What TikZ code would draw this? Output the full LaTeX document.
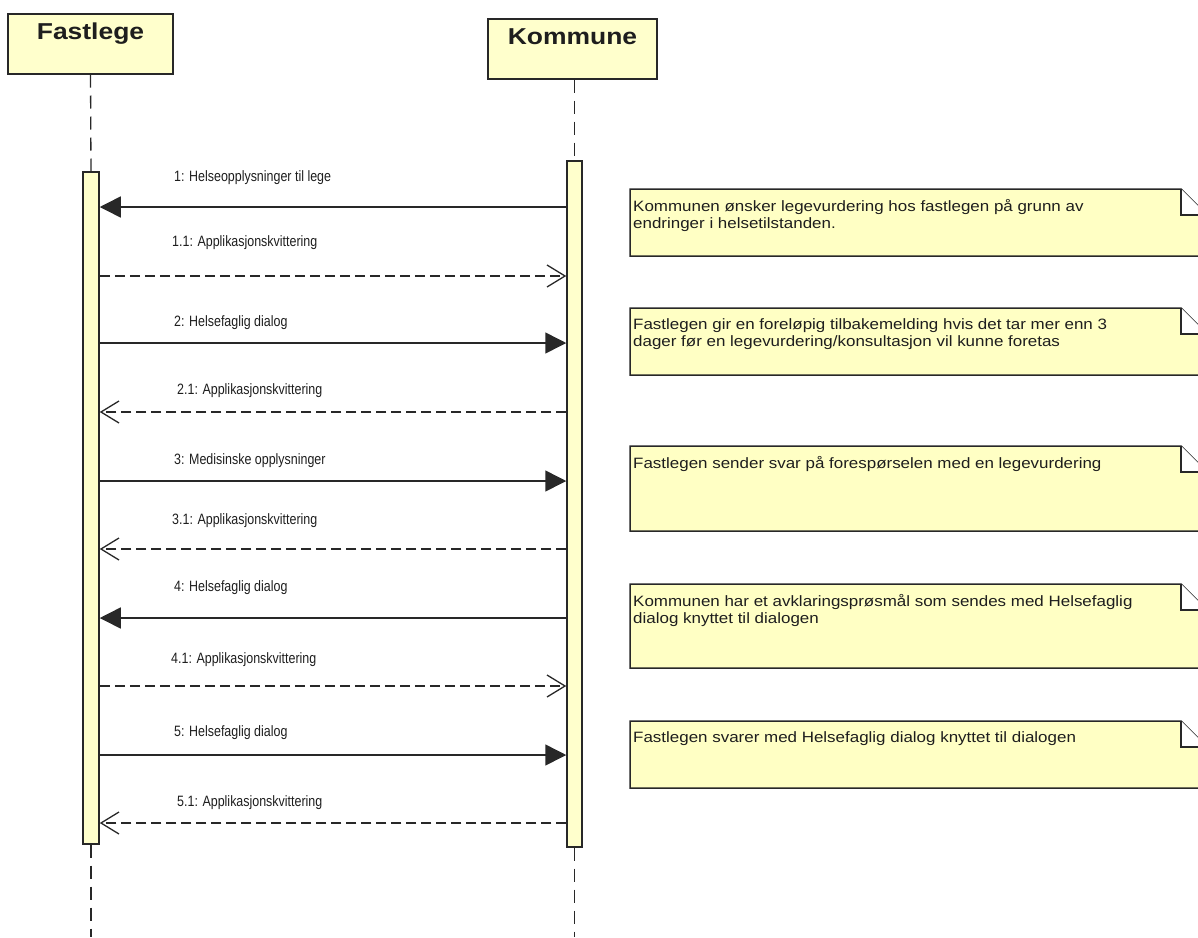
\documentclass[tikz,border=0pt]{standalone}
\usepackage{fontspec}
\setmainfont{Liberation Sans}
\newfontfamily\headfont{Liberation Sans}[FakeStretch=1.15]
\newfontfamily\labelfont{Liberation Sans}[FakeStretch=0.83]
\newfontfamily\notefont{Liberation Sans}[FakeStretch=1.13]
\usetikzlibrary{arrows.meta}
\definecolor{umlfill}{RGB}{255,255,204}
\definecolor{notefill}{RGB}{255,255,196}
\definecolor{umlline}{RGB}{40,40,40}
\definecolor{umltext}{RGB}{30,30,30}

\begin{document}
\begin{tikzpicture}[x=1pt, y=-1pt,
    header/.style={draw=umlline, fill=umlfill, line width=1.5pt, anchor=north,
        inner ysep=4pt, text height=22pt, text depth=30pt, text=umltext,
        font=\fontsize{23}{27}\headfont\bfseries},
    activation/.style={draw=umlline, fill=umlfill, line width=1.5pt, anchor=north, inner sep=0pt},
    lifeline/.style={umlline, line width=1.3pt, dash pattern=on 13pt off 8pt},
    call/.style={umlline, line width=1.5pt, -{Triangle[length=21pt,width=21pt]}},
    reply/.style={umlline, line width=1.3pt, dash pattern=on 10pt off 5pt,
        -{Straight Barb[length=18pt,width=22pt,line width=1.3pt]}},
    msglabel/.style={anchor=west, inner sep=0pt, text=umltext, font=\fontsize{15}{18}\labelfont},
    notebox/.style={draw=umlline, fill=notefill, line width=1.5pt},
    notetext/.style={anchor=north west, inner sep=0pt, align=left, text=umltext,
        font=\fontsize{15}{17.5}\notefont}]
    \useasboundingbox (0,0) rectangle (1198,937);
    \clip (0,0) rectangle (1198,937);

    % Lifelines
    \node[header, minimum width=165pt] (fastlege) at (90.5,13) {Fastlege};
    \node[header, minimum width=169pt] (kommune) at (572.5,18) {Kommune};
    \node[activation, minimum width=16pt, minimum height=672pt] (actF) at (91,171) {};
    \node[activation, minimum width=15pt, minimum height=686pt] (actK) at (574.5,160) {};
    \coordinate (endF) at (91,937);
    \coordinate (endK) at (574.5,937);
    \draw[lifeline] (fastlege.south) -- (actF.north);
    \draw[lifeline] (actK.north |- kommune.south) -- (actK.north);
    \draw[lifeline] (actF.south) -- (endF);
    \draw[lifeline] (actK.south) -- (endK);

    % Messages
    \coordinate (m1) at (0,207);
    \coordinate (m11) at (0,276);
    \coordinate (m2) at (0,343);
    \coordinate (m21) at (0,412);
    \coordinate (m3) at (0,481);
    \coordinate (m31) at (0,549);
    \coordinate (m4) at (0,618);
    \coordinate (m41) at (0,686);
    \coordinate (m5) at (0,755);
    \coordinate (m51) at (0,823);
    \draw[call] (actK.west |- m1) -- (actF.east |- m1);
    \draw[reply] (actF.east |- m11) -- (actK.west |- m11);
    \draw[call] (actF.east |- m2) -- (actK.west |- m2);
    \draw[reply] (actK.west |- m21) -- (actF.east |- m21);
    \draw[call] (actF.east |- m3) -- (actK.west |- m3);
    \draw[reply] (actK.west |- m31) -- (actF.east |- m31);
    \draw[call] (actK.west |- m4) -- (actF.east |- m4);
    \draw[reply] (actF.east |- m41) -- (actK.west |- m41);
    \draw[call] (actF.east |- m5) -- (actK.west |- m5);
    \draw[reply] (actK.west |- m51) -- (actF.east |- m51);
    \node[msglabel] (lab1) at (174,178) {1: Helseopplysninger til lege};
    \node[msglabel] (lab11) at (172,243) {1.1: Applikasjonskvittering};
    \node[msglabel] (lab2) at (174,323) {2: Helsefaglig dialog};
    \node[msglabel] (lab21) at (177,391) {2.1: Applikasjonskvittering};
    \node[msglabel] (lab3) at (174,461) {3: Medisinske opplysninger};
    \node[msglabel] (lab31) at (172,521) {3.1: Applikasjonskvittering};
    \node[msglabel] (lab4) at (174,588) {4: Helsefaglig dialog};
    \node[msglabel] (lab41) at (171,660) {4.1: Applikasjonskvittering};
    \node[msglabel] (lab5) at (174,733) {5: Helsefaglig dialog};
    \node[msglabel] (lab51) at (177,803) {5.1: Applikasjonskvittering};

    % Notes
    \foreach \t/\b in {189/256, 308/375, 446/531, 584/668, 721/788} {
        \draw[notebox] (630,\t) -- (1181,\t) -- (1207,\t+26) -- (1207,\b) -- (630,\b) -- cycle;
        \fill[white] (1181,\t) -- (1181,\t+26) -- (1207,\t+26) -- cycle;
        \draw[umlline, line width=1.5pt] (1181,\t) -- (1181,\t+26) -- (1207,\t+26);
    }
    \node[notetext] (note1) at (633,199) {Kommunen ønsker legevurdering hos fastlegen på grunn av\\endringer i helsetilstanden.};
    \node[notetext] (note2) at (633,318) {Fastlegen gir en foreløpig tilbakemelding hvis det tar mer enn 3\\dager før en legevurdering/konsultasjon vil kunne foretas};
    \node[notetext] (note3) at (633,456) {Fastlegen sender svar på forespørselen med en legevurdering};
    \node[notetext] (note4) at (633,594) {Kommunen har et avklaringsprøsmål som sendes med Helsefaglig\\dialog knyttet til dialogen};
    \node[notetext] (note5) at (633,731) {Fastlegen svarer med Helsefaglig dialog knyttet til dialogen};
\end{tikzpicture}
\end{document}
